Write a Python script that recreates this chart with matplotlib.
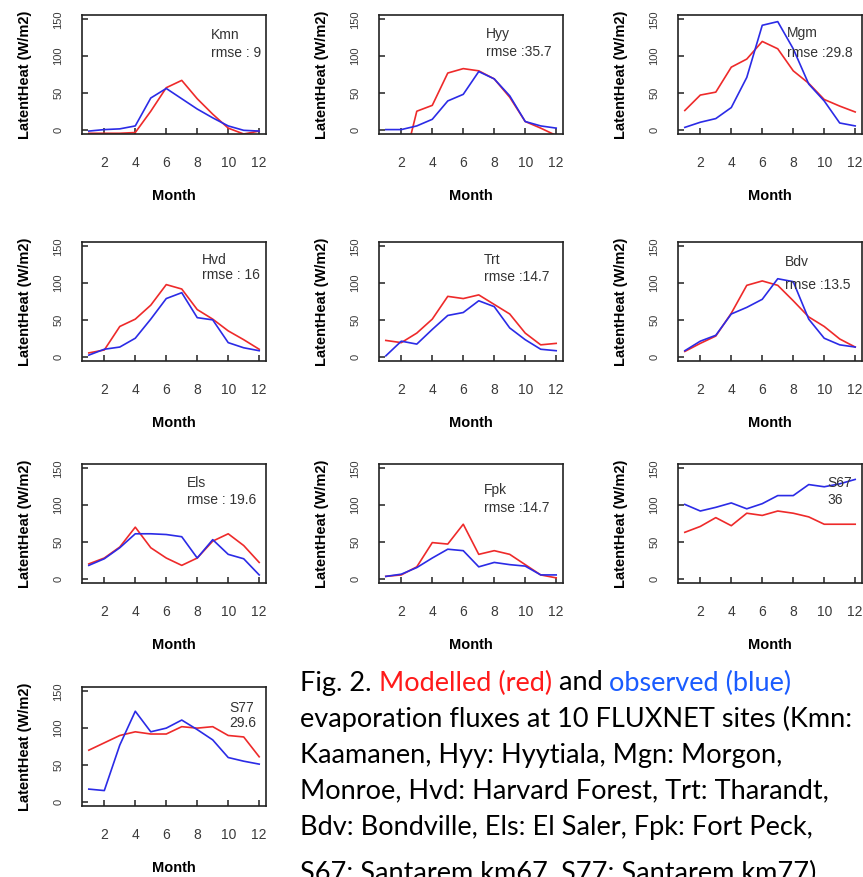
import matplotlib
matplotlib.use("Agg")
import matplotlib.pyplot as plt

plt.rcParams["font.family"] = ["Liberation Sans", "DejaVu Sans"]

months = list(range(1, 13))

sites = ["Kmn", "Hyy", "Mgm", "Hvd", "Trt", "Bdv", "Els", "Fpk", "S67", "S77"]
scores = ["rmse : 9", "rmse :35.7", "rmse :29.8", "rmse : 16", "rmse :14.7",
          "rmse :13.5", "rmse : 19.6", "rmse :14.7", "36", "29.6"]

# modelled (red) / observed (blue), W/m2
mod_kmn = [-5, -5, -5, -4, 25, 57, 67, 42, 21, 2, -6, -2]
obs_kmn = [-2, 0, 1, 5, 43, 56, 42, 28, 16, 5, -1, -2]
mod_hyy = [-60, -60, 25, 33, 77, 83, 80, 69, 44, 11, 2, -8]
obs_hyy = [0, 0, 5, 14, 39, 48, 79, 69, 46, 11, 5, 2]
mod_mgm = [26, 47, 51, 85, 96, 120, 110, 80, 63, 41, 32, 24]
obs_mgm = [3, 10, 15, 30, 71, 142, 147, 110, 62, 39, 9, 5]
mod_hvd = [5, 9, 41, 51, 70, 98, 92, 64, 51, 35, 23, 10]
obs_hvd = [2, 10, 13, 25, 51, 79, 87, 53, 50, 19, 12, 8]
mod_trt = [22, 19, 32, 51, 82, 79, 84, 71, 58, 32, 16, 18]
obs_trt = [1, 21, 17, 37, 56, 60, 76, 68, 39, 23, 10, 8]
mod_bdv = [7, 18, 28, 59, 97, 103, 97, 76, 54, 41, 24, 13]
obs_bdv = [8, 21, 29, 58, 67, 78, 106, 102, 51, 25, 16, 13]
mod_els = [20, 28, 43, 70, 42, 28, 18, 28, 51, 61, 45, 22]
obs_els = [18, 27, 42, 61, 61, 60, 57, 28, 53, 33, 27, 5]
mod_fpk = [3, 5, 16, 49, 47, 74, 33, 38, 33, 19, 5, 1]
obs_fpk = [3, 6, 15, 28, 40, 38, 16, 22, 19, 17, 5, 5]
mod_s67 = [63, 71, 83, 72, 89, 86, 92, 89, 84, 74, 74, 74]
obs_s67 = [101, 92, 97, 103, 95, 102, 113, 113, 128, 125, 129, 135]
mod_s77 = [70, 80, 90, 95, 92, 92, 102, 100, 102, 90, 88, 61]
obs_s77 = [17, 15, 77, 123, 95, 100, 111, 98, 84, 60, 55, 51]

modelled = [mod_kmn, mod_hyy, mod_mgm, mod_hvd, mod_trt, mod_bdv, mod_els, mod_fpk, mod_s67, mod_s77]
observed = [obs_kmn, obs_hyy, obs_mgm, obs_hvd, obs_trt, obs_bdv, obs_els, obs_fpk, obs_s67, obs_s77]

# where the site label sits inside each panel (axes fraction, top line / bottom line)
note_x = [0.70, 0.58, 0.59, 0.65, 0.57, 0.58, 0.57, 0.57, 0.81, 0.80]
note_y = [(0.83, 0.68), (0.84, 0.69), (0.85, 0.68), (0.85, 0.72), (0.85, 0.71),
          (0.83, 0.64), (0.84, 0.70), (0.78, 0.63), (0.84, 0.70), (0.82, 0.70)]

W, H = 863, 877
fig = plt.figure(figsize=(W / 100, H / 100), dpi=100)

col_left = [82, 379, 678]
row_top = [15, 242, 464, 687]
aw, ah = 184, 119

tick_col = "#3a3a3a"
for i, site in enumerate(sites):
    r, c = divmod(i, 3)
    ax = fig.add_axes([col_left[c] / W, 1 - (row_top[r] + ah) / H, aw / W, ah / H])
    ax.plot(months, modelled[i], color="#ee2a2a", lw=1.2)
    ax.plot(months, observed[i], color="#2b2be6", lw=1.2)
    ax.set_xlim(0.56, 12.44)
    ax.set_ylim(-6, 156)
    ax.set_xticks([2, 4, 6, 8, 10, 12])
    ax.set_yticks([0, 50, 100, 150])
    for sp in ax.spines.values():
        sp.set_color("#222222")
        sp.set_linewidth(1.2)
    ax.tick_params(axis="x", direction="in", length=4, width=1.1, pad=15.5,
                   labelsize=10, labelcolor=tick_col, color="#222222")
    ax.tick_params(axis="y", direction="in", length=4, width=1.1, pad=13.5,
                   labelsize=8, labelcolor=tick_col, color="#222222", labelrotation=90)
    for lbl in ax.get_yticklabels():
        lbl.set_va("center")
    ax.set_xlabel("Month", fontsize=10.5, fontweight="bold", va="center")
    ax.xaxis.set_label_coords(0.5, -62 / ah)
    ax.set_ylabel("LatentHeat (W/m2)", fontsize=10.5, fontweight="bold", va="center")
    ax.yaxis.set_label_coords(-57 / aw, 0.5)
    ax.text(note_x[i], note_y[i][0], site, transform=ax.transAxes, fontsize=10,
            color="#333333", va="center", ha="left")
    ax.text(note_x[i], note_y[i][1], scores[i], transform=ax.transAxes, fontsize=10,
            color="#333333", va="center", ha="left")

# caption, first line has coloured parts
cap_font = dict(family="Lato", fontsize=19.5)
x0 = 300 / W
line_y = [683, 719, 755, 791, 827, 873]
parts = [("Fig. 2. ", "black"), ("Modelled (red)", "#ff1a1a"), (" and ", "black"),
         ("observed (blue)", "#1a5cff")]
fig.canvas.draw()
renderer = fig.canvas.get_renderer()
x = x0
for txt, col in parts:
    t = fig.text(x, 1 - line_y[0] / H, txt, color=col, va="center", ha="left", **cap_font)
    bb = t.get_window_extent(renderer=renderer)
    x = bb.x1 / W

caption_rest = [
    "evaporation fluxes at 10 FLUXNET sites (Kmn:",
    "Kaamanen, Hyy: Hyytiala, Mgn: Morgon,",
    "Monroe, Hvd: Harvard Forest, Trt: Tharandt,",
    "Bdv: Bondville, Els: El Saler, Fpk: Fort Peck,",
    "S67: Santarem km67, S77: Santarem km77).",
]
for k, line in enumerate(caption_rest):
    fig.text(x0, 1 - line_y[k + 1] / H, line, color="black", va="center", ha="left", **cap_font)

fig.savefig("out.png", dpi=100)
